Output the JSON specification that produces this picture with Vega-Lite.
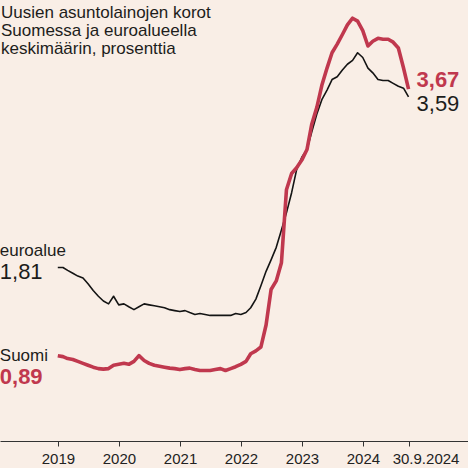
{
  "$schema": "https://vega.github.io/schema/vega-lite/v6.json",
  "width": 468,
  "height": 441,
  "padding": {"left": 0, "top": 0, "right": 0, "bottom": 27},
  "autosize": {"type": "none"},
  "background": "#f9eee6",
  "title": {
    "text": ["Uusien asuntolainojen korot", "Suomessa ja euroalueella", "keskimäärin, prosenttia"],
    "anchor": "start",
    "frame": "group",
    "orient": "top",
    "offset": -58,
    "fontSize": 17,
    "fontWeight": "normal",
    "font": "Liberation Sans",
    "color": "#1d1d1b",
    "lineHeight": 18,
    "dx": 1
  },
  "datasets": {
    "korot": [
      {"date": "2018-12-31", "euro": 1.81, "fi": 0.89},
      {"date": "2019-01-31", "euro": 1.81, "fi": 0.88},
      {"date": "2019-02-28", "euro": 1.78, "fi": 0.86},
      {"date": "2019-03-31", "euro": 1.75, "fi": 0.85},
      {"date": "2019-04-30", "euro": 1.72, "fi": 0.83},
      {"date": "2019-05-31", "euro": 1.70, "fi": 0.81},
      {"date": "2019-06-30", "euro": 1.64, "fi": 0.79},
      {"date": "2019-07-31", "euro": 1.57, "fi": 0.77},
      {"date": "2019-08-31", "euro": 1.51, "fi": 0.755},
      {"date": "2019-09-30", "euro": 1.46, "fi": 0.75},
      {"date": "2019-10-31", "euro": 1.43, "fi": 0.755},
      {"date": "2019-11-30", "euro": 1.51, "fi": 0.79},
      {"date": "2019-12-31", "euro": 1.42, "fi": 0.80},
      {"date": "2020-01-31", "euro": 1.43, "fi": 0.81},
      {"date": "2020-02-29", "euro": 1.40, "fi": 0.80},
      {"date": "2020-03-31", "euro": 1.37, "fi": 0.83},
      {"date": "2020-04-30", "euro": 1.40, "fi": 0.89},
      {"date": "2020-05-31", "euro": 1.43, "fi": 0.84},
      {"date": "2020-06-30", "euro": 1.42, "fi": 0.81},
      {"date": "2020-07-31", "euro": 1.41, "fi": 0.79},
      {"date": "2020-08-31", "euro": 1.40, "fi": 0.78},
      {"date": "2020-09-30", "euro": 1.39, "fi": 0.77},
      {"date": "2020-10-31", "euro": 1.37, "fi": 0.76},
      {"date": "2020-11-30", "euro": 1.36, "fi": 0.755},
      {"date": "2020-12-31", "euro": 1.35, "fi": 0.745},
      {"date": "2021-01-31", "euro": 1.36, "fi": 0.755},
      {"date": "2021-02-28", "euro": 1.34, "fi": 0.76},
      {"date": "2021-03-31", "euro": 1.32, "fi": 0.745},
      {"date": "2021-04-30", "euro": 1.33, "fi": 0.735},
      {"date": "2021-05-31", "euro": 1.32, "fi": 0.735},
      {"date": "2021-06-30", "euro": 1.31, "fi": 0.735},
      {"date": "2021-07-31", "euro": 1.31, "fi": 0.745},
      {"date": "2021-08-31", "euro": 1.31, "fi": 0.755},
      {"date": "2021-09-30", "euro": 1.31, "fi": 0.735},
      {"date": "2021-10-31", "euro": 1.31, "fi": 0.755},
      {"date": "2021-11-30", "euro": 1.33, "fi": 0.775},
      {"date": "2021-12-31", "euro": 1.32, "fi": 0.80},
      {"date": "2022-01-31", "euro": 1.34, "fi": 0.83},
      {"date": "2022-02-28", "euro": 1.39, "fi": 0.91},
      {"date": "2022-03-31", "euro": 1.48, "fi": 0.94},
      {"date": "2022-04-30", "euro": 1.62, "fi": 0.98},
      {"date": "2022-05-31", "euro": 1.77, "fi": 1.21},
      {"date": "2022-06-30", "euro": 1.89, "fi": 1.58},
      {"date": "2022-07-31", "euro": 2.02, "fi": 1.67},
      {"date": "2022-08-31", "euro": 2.20, "fi": 1.86},
      {"date": "2022-09-30", "euro": 2.38, "fi": 2.62},
      {"date": "2022-10-31", "euro": 2.59, "fi": 2.79},
      {"date": "2022-11-30", "euro": 2.83, "fi": 2.85},
      {"date": "2022-12-31", "euro": 2.96, "fi": 2.93},
      {"date": "2023-01-31", "euro": 3.04, "fi": 3.04},
      {"date": "2023-02-28", "euro": 3.22, "fi": 3.30},
      {"date": "2023-03-31", "euro": 3.41, "fi": 3.48},
      {"date": "2023-04-30", "euro": 3.56, "fi": 3.71},
      {"date": "2023-05-31", "euro": 3.66, "fi": 3.89},
      {"date": "2023-06-30", "euro": 3.77, "fi": 4.05},
      {"date": "2023-07-31", "euro": 3.80, "fi": 4.14},
      {"date": "2023-08-31", "euro": 3.87, "fi": 4.24},
      {"date": "2023-09-30", "euro": 3.93, "fi": 4.34},
      {"date": "2023-10-31", "euro": 3.97, "fi": 4.41},
      {"date": "2023-11-30", "euro": 4.05, "fi": 4.38},
      {"date": "2023-12-31", "euro": 4.00, "fi": 4.28},
      {"date": "2024-01-31", "euro": 3.89, "fi": 4.12},
      {"date": "2024-02-29", "euro": 3.84, "fi": 4.17},
      {"date": "2024-03-31", "euro": 3.77, "fi": 4.20},
      {"date": "2024-04-30", "euro": 3.76, "fi": 4.19},
      {"date": "2024-05-31", "euro": 3.76, "fi": 4.19},
      {"date": "2024-06-30", "euro": 3.73, "fi": 4.16},
      {"date": "2024-07-31", "euro": 3.70, "fi": 4.10},
      {"date": "2024-08-31", "euro": 3.68, "fi": 3.89},
      {"date": "2024-09-30", "euro": 3.59, "fi": 3.67}
    ],
    "labels": [
      {"id": "euroName", "date": "2018-12-31", "value": 1.81, "text": "euroalue"},
      {"id": "euroStart", "date": "2018-12-31", "value": 1.81, "text": "1,81"},
      {"id": "fiName", "date": "2018-12-31", "value": 0.89, "text": "Suomi"},
      {"id": "fiStart", "date": "2018-12-31", "value": 0.89, "text": "0,89"},
      {"id": "fiEnd", "date": "2024-09-30", "value": 3.67, "text": "3,67"},
      {"id": "euroEnd", "date": "2024-09-30", "value": 3.59, "text": "3,59"}
    ]
  },
  "encoding": {
    "x": {
      "field": "date",
      "type": "temporal",
      "scale": {
        "type": "utc",
        "domain": [
          {"year": 2018, "month": 1, "date": 19, "utc": true},
          {"year": 2025, "month": 9, "date": 21, "utc": true}
        ]
      },
      "axis": {
        "values": [
          {"year": 2019, "month": 1, "date": 1, "utc": true},
          {"year": 2020, "month": 1, "date": 1, "utc": true},
          {"year": 2021, "month": 1, "date": 1, "utc": true},
          {"year": 2022, "month": 1, "date": 1, "utc": true},
          {"year": 2023, "month": 1, "date": 1, "utc": true},
          {"year": 2024, "month": 1, "date": 1, "utc": true},
          {"year": 2024, "month": 9, "date": 30, "utc": true}
        ],
        "labelExpr": "datum.value > utc(2024, 5, 1) ? '30.9.2024' : utcFormat(datum.value, '%Y')",
        "labelOffset": {"expr": "datum.value > utc(2024, 5, 1) ? 17 : 0"}
      }
    }
  },
  "layer": [
    {
      "data": {"name": "korot"},
      "mark": {"type": "line", "color": "#141414", "strokeWidth": 1.6, "strokeJoin": "round"},
      "encoding": {
        "y": {"field": "euro", "type": "quantitative", "scale": {"domain": [0, 4.6], "nice": false, "zero": false}, "axis": null}
      }
    },
    {
      "data": {"name": "korot"},
      "mark": {"type": "line", "color": "#c0384e", "strokeWidth": 3.6, "strokeJoin": "round"},
      "encoding": {
        "y": {"field": "fi", "type": "quantitative", "scale": {"domain": [0, 4.6], "nice": false, "zero": false}, "axis": null}
      }
    },
    {
      "data": {"name": "labels"},
      "transform": [{"filter": "datum.id == 'euroName'"}],
      "mark": {"type": "text", "align": "left", "baseline": "alphabetic", "dx": -58, "dy": -11.5, "fontSize": 17, "color": "#1d1d1b"},
      "encoding": {"y": {"field": "value", "type": "quantitative", "scale": {"domain": [0, 4.6], "nice": false, "zero": false}, "axis": null}, "text": {"field": "text"}}
    },
    {
      "data": {"name": "labels"},
      "transform": [{"filter": "datum.id == 'euroStart'"}],
      "mark": {"type": "text", "align": "left", "baseline": "alphabetic", "dx": -58, "dy": 11.5, "fontSize": 22, "color": "#1d1d1b"},
      "encoding": {"y": {"field": "value", "type": "quantitative", "scale": {"domain": [0, 4.6], "nice": false, "zero": false}, "axis": null}, "text": {"field": "text"}}
    },
    {
      "data": {"name": "labels"},
      "transform": [{"filter": "datum.id == 'fiName'"}],
      "mark": {"type": "text", "align": "left", "baseline": "alphabetic", "dx": -58, "dy": 5, "fontSize": 17, "color": "#1d1d1b"},
      "encoding": {"y": {"field": "value", "type": "quantitative", "scale": {"domain": [0, 4.6], "nice": false, "zero": false}, "axis": null}, "text": {"field": "text"}}
    },
    {
      "data": {"name": "labels"},
      "transform": [{"filter": "datum.id == 'fiStart'"}],
      "mark": {"type": "text", "align": "left", "baseline": "alphabetic", "dx": -58, "dy": 28.3, "fontSize": 22, "fontWeight": "bold", "color": "#c0384e"},
      "encoding": {"y": {"field": "value", "type": "quantitative", "scale": {"domain": [0, 4.6], "nice": false, "zero": false}, "axis": null}, "text": {"field": "text"}}
    },
    {
      "data": {"name": "labels"},
      "transform": [{"filter": "datum.id == 'fiEnd'"}],
      "mark": {"type": "text", "align": "left", "baseline": "alphabetic", "dx": 8, "dy": -2.5, "fontSize": 22, "fontWeight": "bold", "color": "#c0384e"},
      "encoding": {"y": {"field": "value", "type": "quantitative", "scale": {"domain": [0, 4.6], "nice": false, "zero": false}, "axis": null}, "text": {"field": "text"}}
    },
    {
      "data": {"name": "labels"},
      "transform": [{"filter": "datum.id == 'euroEnd'"}],
      "mark": {"type": "text", "align": "left", "baseline": "alphabetic", "dx": 8, "dy": 14, "fontSize": 22, "color": "#1d1d1b"},
      "encoding": {"y": {"field": "value", "type": "quantitative", "scale": {"domain": [0, 4.6], "nice": false, "zero": false}, "axis": null}, "text": {"field": "text"}}
    }
  ],
  "config": {
    "view": {"stroke": null},
    "font": "Liberation Sans",
    "text": {"font": "Liberation Sans"},
    "axis": {
      "title": null,
      "grid": false,
      "domainColor": "#333333",
      "domainWidth": 1,
      "tickColor": "#333333",
      "tickSize": 5,
      "tickWidth": 1,
      "labelFont": "Liberation Sans",
      "labelFontSize": 15,
      "labelColor": "#222222",
      "labelPadding": 5,
      "labelFlush": false,
      "labelOverlap": false
    }
  }
}
